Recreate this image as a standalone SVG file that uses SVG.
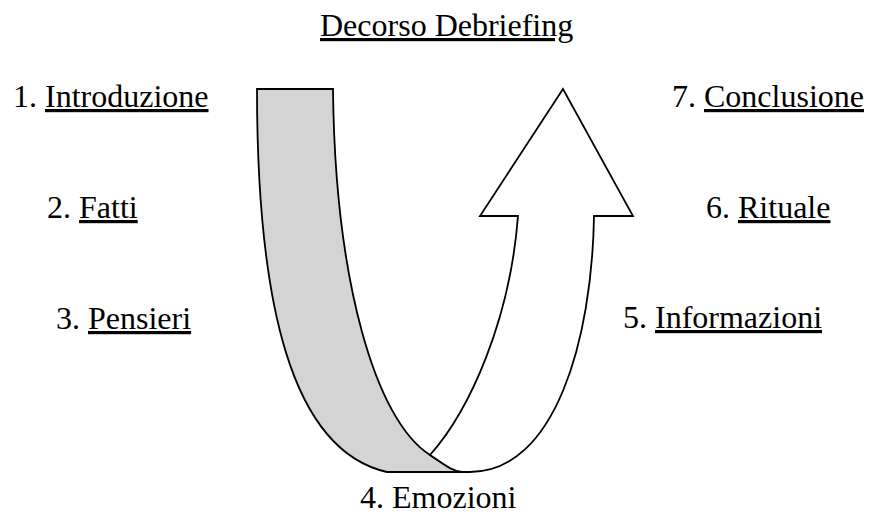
<svg xmlns="http://www.w3.org/2000/svg" width="869" height="516" viewBox="0 0 869 516">
  <style>
    text { font-family: "Liberation Serif", "Times New Roman", serif; font-size: 32px; fill: #000; }
    .u { text-decoration: underline; }
    .band { stroke: #000; stroke-width: 1.8; stroke-linejoin: miter; }
  </style>
  <rect width="869" height="516" fill="#fff"/>

  <!-- U-turn ribbon arrow: grey back side going down, white arrow coming up -->
  <g id="ribbon">
    <path class="band" fill="#d4d4d4"
          d="M257,89 L333,89 C335,280 375,420 430,455 C445,465 452,471 462,472 L387,472 C290,450 257,300 257,89 Z"/>
    <path class="band" fill="#fff"
          d="M430,455 C470,410 510,320 518,216 L480,216 L563,89 L633,216 L594,216 C592,340 555,472 470,472 L462,472 C452,471 445,465 430,455 Z"/>
  </g>

  <!-- Title -->
  <g id="title">
    <text x="320" y="36" class="u">Decorso Debriefing</text>
  </g>

  <!-- Phase labels -->
  <g id="step1"><text x="13" y="107">1. <tspan class="u">Introduzione</tspan></text></g>
  <g id="step2"><text x="47" y="218">2. <tspan class="u">Fatti</tspan></text></g>
  <g id="step3"><text x="56" y="329">3. <tspan class="u">Pensieri</tspan></text></g>
  <g id="step4"><text x="360" y="508">4. Emozioni</text></g>
  <g id="step5"><text x="623" y="328">5. <tspan class="u">Informazioni</tspan></text></g>
  <g id="step6"><text x="706" y="218">6. <tspan class="u">Rituale</tspan></text></g>
  <g id="step7"><text x="672" y="107">7. <tspan class="u">Conclusione</tspan></text></g>
</svg>
